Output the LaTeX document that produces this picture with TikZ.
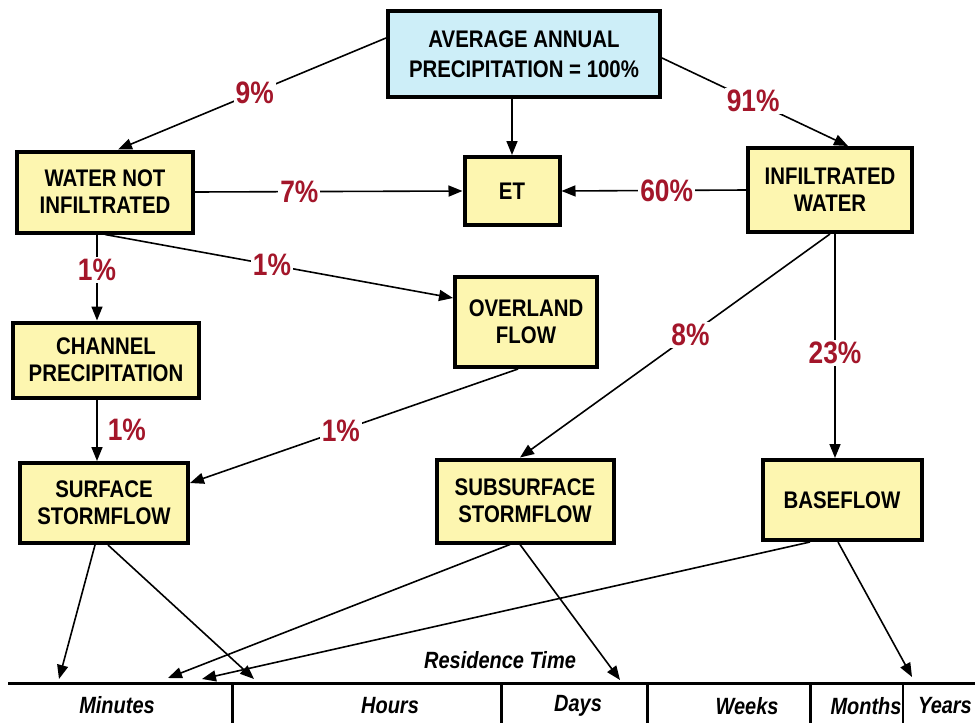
\documentclass[tikz,border=0pt]{standalone}
\usepackage{fontspec}
\newfontfamily\cond[FakeStretch=0.85]{Liberation Sans}
\usetikzlibrary{arrows.meta,calc}
\definecolor{boxyellow}{RGB}{253,246,176}
\definecolor{boxblue}{RGB}{205,238,248}
\definecolor{pctred}{RGB}{163,22,42}
\begin{document}
\begin{tikzpicture}[x=1pt,y=-1pt,
  box/.style={draw=black,line width=4pt,fill=boxyellow,align=center,
    font=\cond\bfseries\fontsize{24}{27}\selectfont,inner sep=0pt},
  arr/.style={line width=1.6pt,-{Triangle[length=14pt,width=11pt]}},
  lbl/.style={fill=white,text=pctred,font=\cond\bfseries\fontsize{31}{33}\selectfont,inner sep=2pt},
  ax/.style={font=\cond\bfseries\itshape\fontsize{23.5}{26}\selectfont,inner sep=0pt},
  axline/.style={line width=3pt}]
\useasboundingbox (0,0) rectangle (975,723);

% boxes
\node[box,fill=boxblue,minimum width=272pt,minimum height=86pt,
  font=\cond\bfseries\fontsize{24}{30}\selectfont] (top) at (524,54) {AVERAGE ANNUAL\\PRECIPITATION = 100\%};
\node[box,minimum width=176pt,minimum height=81pt] (wni) at (105,192) {WATER NOT\\INFILTRATED};
\node[box,minimum width=95pt,minimum height=68pt] (et) at (512,191) {ET};
\node[box,minimum width=164pt,minimum height=84pt] (inf) at (830,190) {INFILTRATED\\WATER};
\node[box,minimum width=186pt,minimum height=75pt] (chan) at (106,360) {CHANNEL\\PRECIPITATION};
\node[box,minimum width=142pt,minimum height=90pt] (over) at (526,322) {OVERLAND\\FLOW};
\node[box,minimum width=168pt,minimum height=80pt] (surf) at (104,503) {SURFACE\\STORMFLOW};
\node[box,minimum width=177pt,minimum height=83pt] (sub) at (525,501) {SUBSURFACE\\STORMFLOW};
\node[box,minimum width=159pt,minimum height=80pt] (base) at (842,500) {BASEFLOW};

% connectors between boxes
\draw[arr] ([yshift=16pt]top.west) -- node[lbl,pos=0.49]{9\%} ([xshift=13pt]wni.north);
\draw[arr] (top.south -| et.north) -- (et.north);
\draw[arr] ([yshift=-4pt]top.east) -- node[lbl,pos=0.49]{91\%} ([xshift=18pt]inf.north);
\draw[arr] (wni.east) -- node[lbl,pos=0.39]{7\%} (et.west);
\draw[arr] (inf.west) -- node[lbl,pos=0.43]{60\%} (et.east);
\draw[arr] ([xshift=-8pt]wni.south) -- node[lbl,pos=0.41]{1\%} ([xshift=-8pt]wni.south |- chan.north);
\draw[arr] (wni.south) -- node[lbl,pos=0.48]{1\%} ([yshift=24pt]over.west);
\draw[arr] (inf.south) -- node[lbl,pos=0.45]{8\%} ([xshift=-5pt]sub.north);
\draw[arr] ([xshift=5pt]inf.south) -- node[lbl,pos=0.53]{23\%} ([xshift=5pt]inf.south |- base.north);
\draw[arr] ([xshift=-9pt]chan.south) -- node[lbl,pos=0.5,right=8pt]{1\%} ([xshift=-9pt]chan.south |- surf.north);
\draw[arr] ([xshift=-8pt]over.south) -- node[lbl,pos=0.54]{1\%} ([yshift=20pt]surf.east);

% axis
\coordinate (axL) at (8,683);
\coordinate (axR) at (975,683);
\draw[axline] (axL) -- (axR);
\draw[axline] (232,683) -- (232,723);
\draw[axline] (501,683) -- (501,723);
\draw[axline] (647,683) -- (647,723);
\draw[axline] (810,683) -- (810,723);
\draw[line width=2pt] (903,683) -- (903,723);

\node[ax] (rt) at (500,660) {Residence Time};
\node[ax] (lmin) at (117,705) {Minutes};
\node[ax] (lhr) at (390,706) {Hours};
\node[ax] (lday) at (578,706) {Days};
\node[ax] (lwk) at (747,706) {Weeks};
\node[ax] (lmo) at (866,706) {Months};
\node[ax] (lyr) at (945,706) {Years};

% arrow ends on the axis
\coordinate (t1) at (59,679);
\coordinate (t2) at (254,679);
\coordinate (t3) at (168,678);
\coordinate (t4) at (202,679);
\coordinate (t5) at (620,680);
\coordinate (t6) at (912,677);

\draw[arr] ([xshift=-9pt]surf.south) -- (t1);
\draw[arr] ([xshift=4pt]surf.south) -- (t2);
\draw[arr] ([xshift=-15pt]sub.south) -- (t3);
\draw[arr] ([xshift=-5pt]sub.south) -- (t5);
\draw[arr] ([xshift=-32pt]base.south) -- (t4);
\draw[arr] ([xshift=-4pt]base.south) -- (t6);
\end{tikzpicture}
\end{document}
